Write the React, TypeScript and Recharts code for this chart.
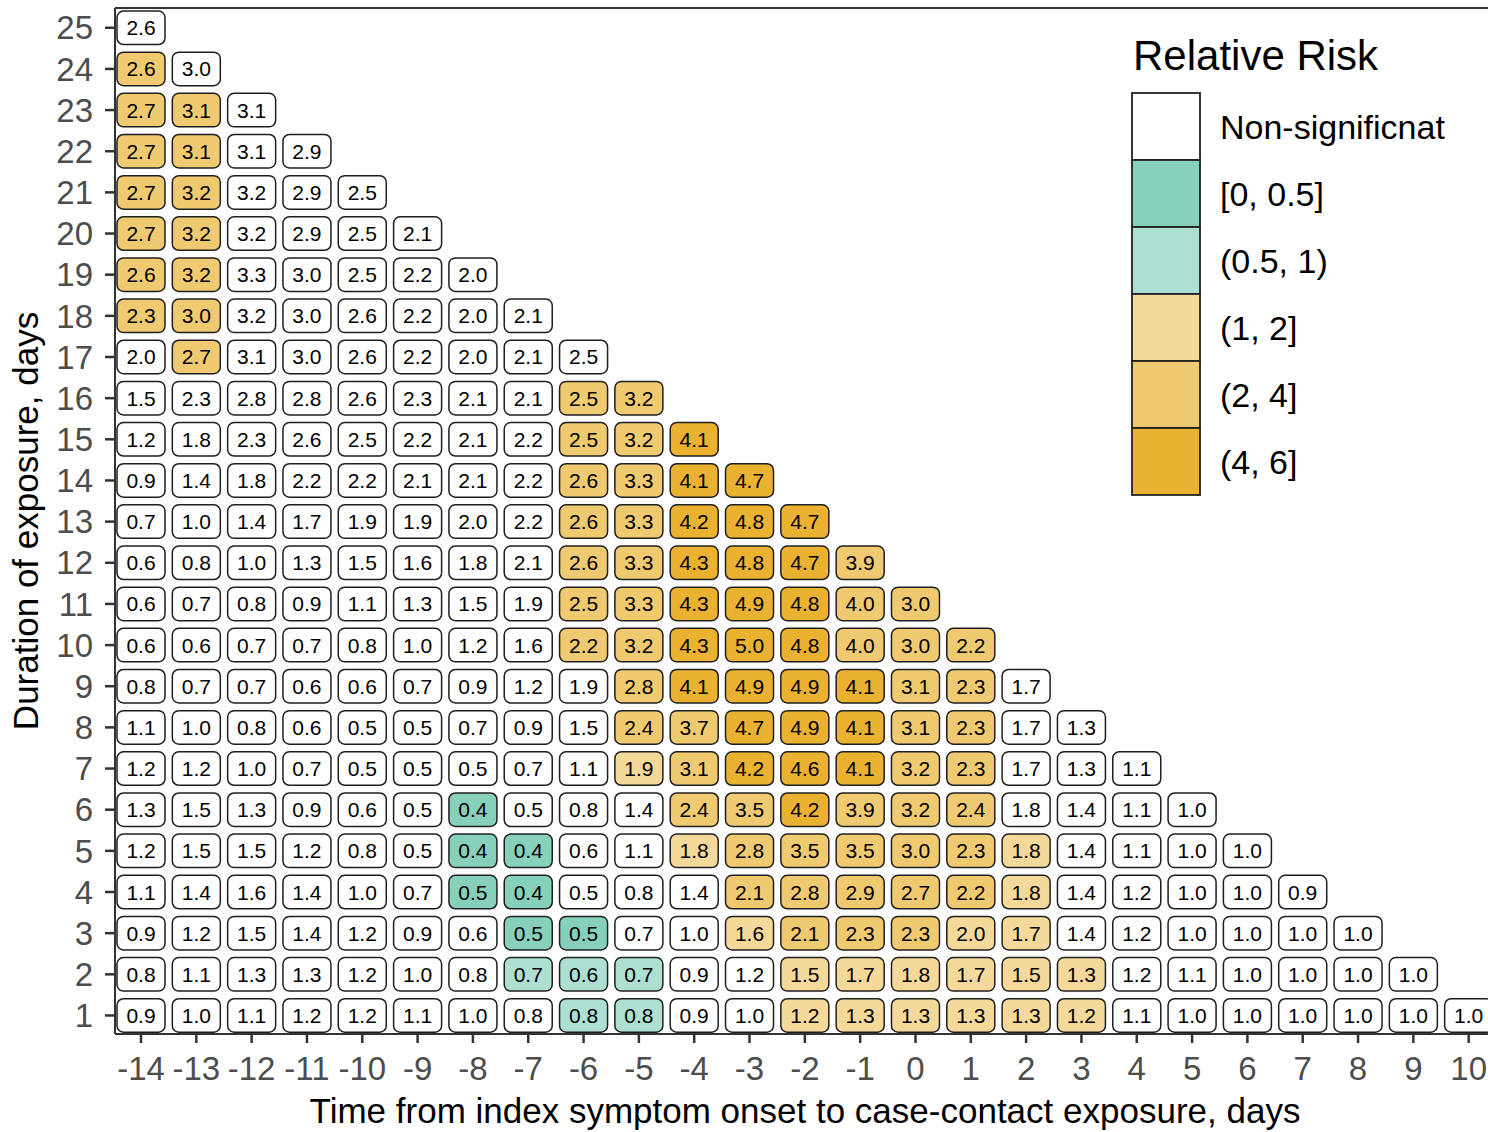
import React from 'react';
import { ScatterChart, Scatter, XAxis, YAxis, ReferenceLine } from 'recharts';

// Time from index symptom onset to case-contact exposure (days)
const xTicks = [-14, -13, -12, -11, -10, -9, -8, -7, -6, -5, -4, -3, -2, -1, 0, 1, 2, 3, 4, 5, 6, 7, 8, 9, 10];
// Duration of exposure (days)
const yTicks = [1, 2, 3, 4, 5, 6, 7, 8, 9, 10, 11, 12, 13, 14, 15, 16, 17, 18, 19, 20, 21, 22, 23, 24, 25];

// Relative risk per duration row (index 0 = 1 day), columns start at x = -14
const rrRows: number[][] = [
  [0.9, 1.0, 1.1, 1.2, 1.2, 1.1, 1.0, 0.8, 0.8, 0.8, 0.9, 1.0, 1.2, 1.3, 1.3, 1.3, 1.3, 1.2, 1.1, 1.0, 1.0, 1.0, 1.0, 1.0, 1.0],
  [0.8, 1.1, 1.3, 1.3, 1.2, 1.0, 0.8, 0.7, 0.6, 0.7, 0.9, 1.2, 1.5, 1.7, 1.8, 1.7, 1.5, 1.3, 1.2, 1.1, 1.0, 1.0, 1.0, 1.0],
  [0.9, 1.2, 1.5, 1.4, 1.2, 0.9, 0.6, 0.5, 0.5, 0.7, 1.0, 1.6, 2.1, 2.3, 2.3, 2.0, 1.7, 1.4, 1.2, 1.0, 1.0, 1.0, 1.0],
  [1.1, 1.4, 1.6, 1.4, 1.0, 0.7, 0.5, 0.4, 0.5, 0.8, 1.4, 2.1, 2.8, 2.9, 2.7, 2.2, 1.8, 1.4, 1.2, 1.0, 1.0, 0.9],
  [1.2, 1.5, 1.5, 1.2, 0.8, 0.5, 0.4, 0.4, 0.6, 1.1, 1.8, 2.8, 3.5, 3.5, 3.0, 2.3, 1.8, 1.4, 1.1, 1.0, 1.0],
  [1.3, 1.5, 1.3, 0.9, 0.6, 0.5, 0.4, 0.5, 0.8, 1.4, 2.4, 3.5, 4.2, 3.9, 3.2, 2.4, 1.8, 1.4, 1.1, 1.0],
  [1.2, 1.2, 1.0, 0.7, 0.5, 0.5, 0.5, 0.7, 1.1, 1.9, 3.1, 4.2, 4.6, 4.1, 3.2, 2.3, 1.7, 1.3, 1.1],
  [1.1, 1.0, 0.8, 0.6, 0.5, 0.5, 0.7, 0.9, 1.5, 2.4, 3.7, 4.7, 4.9, 4.1, 3.1, 2.3, 1.7, 1.3],
  [0.8, 0.7, 0.7, 0.6, 0.6, 0.7, 0.9, 1.2, 1.9, 2.8, 4.1, 4.9, 4.9, 4.1, 3.1, 2.3, 1.7],
  [0.6, 0.6, 0.7, 0.7, 0.8, 1.0, 1.2, 1.6, 2.2, 3.2, 4.3, 5.0, 4.8, 4.0, 3.0, 2.2],
  [0.6, 0.7, 0.8, 0.9, 1.1, 1.3, 1.5, 1.9, 2.5, 3.3, 4.3, 4.9, 4.8, 4.0, 3.0],
  [0.6, 0.8, 1.0, 1.3, 1.5, 1.6, 1.8, 2.1, 2.6, 3.3, 4.3, 4.8, 4.7, 3.9],
  [0.7, 1.0, 1.4, 1.7, 1.9, 1.9, 2.0, 2.2, 2.6, 3.3, 4.2, 4.8, 4.7],
  [0.9, 1.4, 1.8, 2.2, 2.2, 2.1, 2.1, 2.2, 2.6, 3.3, 4.1, 4.7],
  [1.2, 1.8, 2.3, 2.6, 2.5, 2.2, 2.1, 2.2, 2.5, 3.2, 4.1],
  [1.5, 2.3, 2.8, 2.8, 2.6, 2.3, 2.1, 2.1, 2.5, 3.2],
  [2.0, 2.7, 3.1, 3.0, 2.6, 2.2, 2.0, 2.1, 2.5],
  [2.3, 3.0, 3.2, 3.0, 2.6, 2.2, 2.0, 2.1],
  [2.6, 3.2, 3.3, 3.0, 2.5, 2.2, 2.0],
  [2.7, 3.2, 3.2, 2.9, 2.5, 2.1],
  [2.7, 3.2, 3.2, 2.9, 2.5],
  [2.7, 3.1, 3.1, 2.9],
  [2.7, 3.1, 3.1],
  [2.6, 3.0],
  [2.6],
];

// Significance flags (1 = significant) matching rrRows
const sigRows: number[][] = [
  [0, 0, 0, 0, 0, 0, 0, 0, 1, 1, 0, 0, 1, 1, 1, 1, 1, 1, 0, 0, 0, 0, 0, 0, 0],
  [0, 0, 0, 0, 0, 0, 0, 1, 1, 1, 0, 0, 1, 1, 1, 1, 1, 1, 0, 0, 0, 0, 0, 0],
  [0, 0, 0, 0, 0, 0, 0, 1, 1, 0, 0, 1, 1, 1, 1, 1, 1, 0, 0, 0, 0, 0, 0],
  [0, 0, 0, 0, 0, 0, 1, 1, 0, 0, 0, 1, 1, 1, 1, 1, 1, 0, 0, 0, 0, 0],
  [0, 0, 0, 0, 0, 0, 1, 1, 0, 0, 1, 1, 1, 1, 1, 1, 1, 0, 0, 0, 0],
  [0, 0, 0, 0, 0, 0, 1, 0, 0, 0, 1, 1, 1, 1, 1, 1, 0, 0, 0, 0],
  [0, 0, 0, 0, 0, 0, 0, 0, 0, 1, 1, 1, 1, 1, 1, 1, 0, 0, 0],
  [0, 0, 0, 0, 0, 0, 0, 0, 0, 1, 1, 1, 1, 1, 1, 1, 0, 0],
  [0, 0, 0, 0, 0, 0, 0, 0, 0, 1, 1, 1, 1, 1, 1, 1, 0],
  [0, 0, 0, 0, 0, 0, 0, 0, 1, 1, 1, 1, 1, 1, 1, 1],
  [0, 0, 0, 0, 0, 0, 0, 0, 1, 1, 1, 1, 1, 1, 1],
  [0, 0, 0, 0, 0, 0, 0, 0, 1, 1, 1, 1, 1, 1],
  [0, 0, 0, 0, 0, 0, 0, 0, 1, 1, 1, 1, 1],
  [0, 0, 0, 0, 0, 0, 0, 0, 1, 1, 1, 1],
  [0, 0, 0, 0, 0, 0, 0, 0, 1, 1, 1],
  [0, 0, 0, 0, 0, 0, 0, 0, 1, 1],
  [0, 1, 0, 0, 0, 0, 0, 0, 0],
  [1, 1, 0, 0, 0, 0, 0, 0],
  [1, 1, 0, 0, 0, 0, 0],
  [1, 1, 0, 0, 0, 0],
  [1, 1, 0, 0, 0],
  [1, 1, 0, 0],
  [1, 1, 0],
  [1, 0],
  [0],
];

const legendLabels = ['Non-significnat', '[0, 0.5]', '(0.5, 1)', '(1, 2]', '(2, 4]', '(4, 6]'];
const legendColors = ['#FFFFFF', '#86D0BC', '#AEDFD3', '#F5D99B', '#F0CA70', '#EBB232'];

const FONT = '"Liberation Sans", Arial, Helvetica, sans-serif';

const binIndex = (v: number, sig: number) => {
  if (!sig) return 0;
  if (v <= 0.5) return 1;
  if (v < 1) return 2;
  if (v <= 2) return 3;
  if (v <= 4) return 4;
  return 5;
};

const cells = rrRows.flatMap((row, i) =>
  row.map((v, j) => ({ x: xTicks[j], y: yTicks[i], rr: v, sig: sigRows[i][j] }))
);

const CellShape = (props: any) => {
  const { cx, cy, payload } = props;
  if (cx == null || cy == null) return null;
  const fill = legendColors[binIndex(payload.rr, payload.sig)];
  return (
    <g>
      <rect x={cx - 24} y={cy - 16.75} width={48} height={33.5} rx={6.5} ry={6.5} fill={fill} stroke="#1f1f1f" strokeWidth={1.5} />
      <text x={cx} y={cy + 7.5} textAnchor="middle" fontSize={21} fill="#000" fontFamily={FONT}>
        {payload.rr.toFixed(1)}
      </text>
    </g>
  );
};

export default function App() {
  return (
    <div style={{ position: 'fixed', left: 0, top: 0, width: 1488, height: 1132, overflow: 'hidden', background: '#fff' }}>
      <ScatterChart width={1500} height={1132} margin={{ top: 8, right: 2, bottom: 0, left: 0 }}>
        <XAxis
          type="number"
          dataKey="x"
          domain={[-14.47, 10.53]}
          ticks={xTicks}
          interval={0}
          allowDataOverflow
          height={98}
          tickSize={9}
          tickMargin={14}
          axisLine={{ stroke: '#333', strokeWidth: 2 }}
          tickLine={{ stroke: '#333', strokeWidth: 2.5 }}
          tick={{ fill: '#4D4D4D', fontSize: 33, fontFamily: FONT }}
        />
        <YAxis
          type="number"
          dataKey="y"
          domain={[0.55, 25.48]}
          ticks={yTicks}
          interval={0}
          allowDataOverflow
          width={115}
          tickSize={10}
          tickMargin={12}
          axisLine={{ stroke: '#333', strokeWidth: 2 }}
          tickLine={{ stroke: '#333', strokeWidth: 2.5 }}
          tick={{ fill: '#4D4D4D', fontSize: 33, fontFamily: FONT }}
        />
        <ReferenceLine y={25.48} stroke="#333" strokeWidth={2} ifOverflow="extendDomain" />
        <Scatter data={cells} shape={CellShape} isAnimationActive={false} />
      </ScatterChart>
      <svg width={1488} height={1132} style={{ position: 'absolute', left: 0, top: 0, pointerEvents: 'none' }}>
        <text x={805} y={1123} textAnchor="middle" fontSize={35} fill="#000" fontFamily={FONT}>
          Time from index symptom onset to case-contact exposure, days
        </text>
        <text transform="translate(38,521) rotate(-90)" textAnchor="middle" fontSize={35} fill="#000" fontFamily={FONT}>
          Duration of exposure, days
        </text>
        <text x={1133} y={70} fontSize={42} fill="#000" fontFamily={FONT}>
          Relative Risk
        </text>
        {legendLabels.map((lab, i) => (
          <g key={lab}>
            <rect x={1132} y={93 + i * 67} width={68} height={67} fill={legendColors[i]} stroke="#222" strokeWidth={1.8} />
            <text x={1220} y={93 + i * 67 + 33.5 + 12} fontSize={34} fill="#000" fontFamily={FONT}>
              {lab}
            </text>
          </g>
        ))}
      </svg>
    </div>
  );
}
